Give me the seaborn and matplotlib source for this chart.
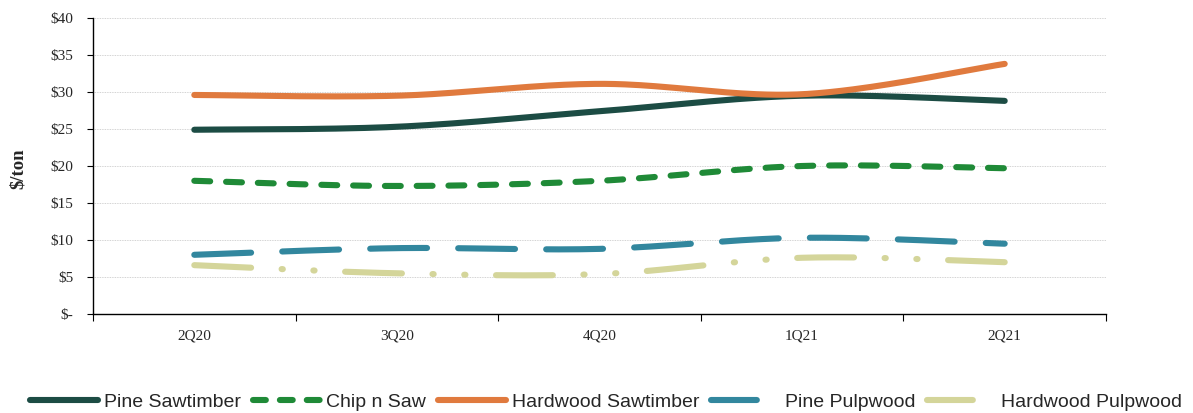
import numpy as np
import pandas as pd
import matplotlib
matplotlib.use("Agg")
import matplotlib.pyplot as plt
import seaborn as sns

quarters = ["2Q20", "3Q20", "4Q20", "1Q21", "2Q21"]
pine_saw = [24.9, 25.3, 27.4, 29.5, 28.8]
chip_n_saw = [18.0, 17.3, 18.0, 20.0, 19.7]
hard_saw = [29.6, 29.5, 31.1, 29.7, 33.8]
pine_pulp = [8.0, 8.9, 8.8, 10.3, 9.5]
hard_pulp = [6.6, 5.5, 5.4, 7.6, 7.0]
y_ticks = [0, 5, 10, 15, 20, 25, 30, 35, 40]
y_labels = ["$-", "$5", "$10", "$15", "$20", "$25", "$30", "$35", "$40"]

series = [
    ("Pine Sawtimber", pine_saw, "#1c4c44", "-", "-"),
    ("Chip n Saw", chip_n_saw, "#1f8a37", (0, (2.6, 2.6)), (0, (2.1, 2.3))),
    ("Hardwood Sawtimber", hard_saw, "#e07a3e", "-", "-"),
    ("Pine Pulpwood", pine_pulp, "#32879e", (0, (9.3, 5.1)), (0, (7.5, 12))),
    ("Hardwood Pulpwood", hard_pulp, "#d4d59a", (0, (9.3, 5.0, 0.2, 5.0, 0.2, 5.0)), (0, (7.5, 12))),
]


def smooth(xs, ys, n=40):
    # Catmull-Rom style smoothing (like Excel "smoothed line") for drawing only
    xs = np.asarray(xs, float); ys = np.asarray(ys, float)
    px = np.concatenate([[xs[0]], xs, [xs[-1]]])
    py = np.concatenate([[ys[0]], ys, [ys[-1]]])
    ox, oy = [], []
    for i in range(1, len(px) - 2):
        p0, p1, p2, p3 = [np.array([px[j], py[j]]) for j in (i - 1, i, i + 1, i + 2)]
        c1 = p1 + (p2 - p0) / 6.0
        c2 = p2 - (p3 - p1) / 6.0
        t = np.linspace(0, 1, n, endpoint=(i == len(px) - 3))[:, None]
        pts = ((1 - t) ** 3) * p1 + 3 * ((1 - t) ** 2) * t * c1 + 3 * (1 - t) * t ** 2 * c2 + t ** 3 * p2
        ox.extend(pts[:, 0]); oy.extend(pts[:, 1])
    return np.array(ox), np.array(oy)


sns.set_theme(style="white")
plt.rcParams["font.family"] = ["Liberation Serif", "DejaVu Serif"]

fig = plt.figure(figsize=(11.93, 4.13), dpi=100)
ax = fig.add_axes([93 / 1193, 1 - 314 / 413, (1106 - 93) / 1193, (314 - 18) / 413])

lw = 4.4
xpos = np.arange(len(quarters))
handles = []
for name, vals, color, ls, lls in series:
    sx, sy = smooth(xpos, vals)
    df = pd.DataFrame({"x": sx, "y": sy})
    sns.lineplot(data=df, x="x", y="y", ax=ax, color=color, linewidth=lw, sort=False,
                 estimator=None)
    line = ax.lines[-1]
    line.set_linestyle(ls)
    line.set_solid_capstyle("round")
    line.set_dash_capstyle("round")
    h = matplotlib.lines.Line2D([], [], color=color, linewidth=lw, linestyle=lls,
                                solid_capstyle="round", dash_capstyle="round")
    handles.append((h, name))

ax.set_xlim(-0.5, len(quarters) - 0.5)
ax.set_ylim(0, 40)
ax.set_yticks(y_ticks)
ax.set_yticklabels(y_labels, fontsize=11)
ax.set_xticks(np.arange(len(quarters) + 1) - 0.5)
ax.set_xticklabels([])
ax.set_xticks(xpos, minor=True)
ax.set_xticklabels(quarters, minor=True, fontsize=11)
ax.tick_params(axis="x", which="major", direction="out", length=5, width=0.8, color="black", bottom=True)
ax.tick_params(axis="x", which="minor", length=0, pad=11)
ax.tick_params(axis="y", direction="out", length=4, width=0.8, color="black", left=True, pad=10)
ax.set_xlabel("")
ax.set_ylabel("$/ton", fontsize=13.5, fontweight="bold")
ax.yaxis.set_label_coords((27 - 93) / 1013, (314 - 169) / 296)
ax.yaxis.grid(True, linestyle=(0, (1, 1)), color="#c4c4c4", linewidth=0.6)
ax.xaxis.grid(False)
for s in ["top", "right"]:
    ax.spines[s].set_visible(False)
for s in ["left", "bottom"]:
    ax.spines[s].set_color("black")
    ax.spines[s].set_linewidth(1.0)
ax.set_axisbelow(True)

fig.legend([h for h, _ in handles], [n for _, n in handles], loc="center",
           bbox_to_anchor=(606 / 1193, 1 - 402 / 413), ncol=5, frameon=False,
           handlelength=3.5, handletextpad=0.3, columnspacing=0.6,
           prop={"family": "Liberation Sans", "size": 14})

fig.savefig("out.png", dpi=100)
